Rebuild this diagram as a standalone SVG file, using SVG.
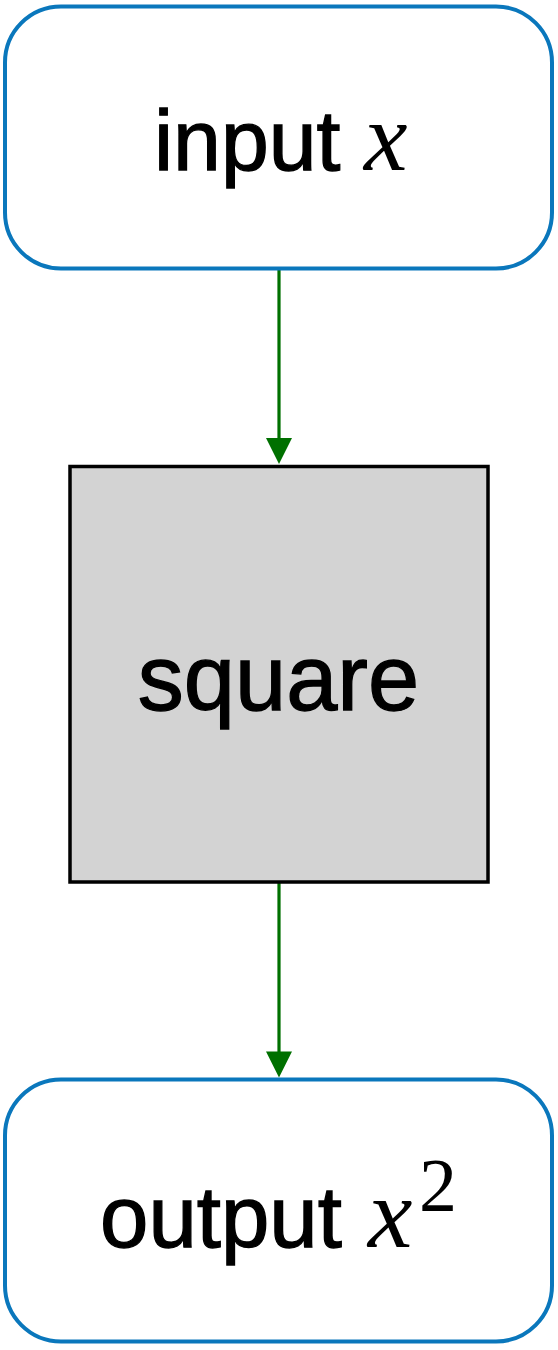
<svg xmlns="http://www.w3.org/2000/svg" width="558" height="1350" viewBox="0 0 558 1350">
  <style>
    .term { fill: #ffffff; stroke: #0a77bc; stroke-width: 4; }
    .proc { fill: #d3d3d3; stroke: #000000; stroke-width: 3.5; }
    .edge { stroke: #007000; stroke-width: 3.2; fill: none; }
    .head { fill: #007000; stroke: none; }
    .sans { font-family: "Liberation Sans", Arial, sans-serif; fill: #000; stroke: #000; stroke-width: 1.3; }
    .math { font-family: "Liberation Serif", "Times New Roman", serif; font-style: italic; fill: #000; }
    .num { font-family: "Liberation Serif", "Times New Roman", serif; fill: #000; }
  </style>
  <rect width="558" height="1350" fill="#ffffff"/>
  <g id="connectors">
    <line class="edge" x1="279" y1="268.5" x2="279" y2="440"/>
    <polygon class="head" points="266,438 292,438 279,464"/>
    <line class="edge" x1="279" y1="882" x2="279" y2="1053"/>
    <polygon class="head" points="266,1051.5 292,1051.5 279,1077.5"/>
  </g>
  <g id="input">
    <rect class="term" x="5" y="6.5" width="547" height="262" rx="56" ry="56"/>
    <text class="sans" x="154" y="170" font-size="86">input</text>
    <text class="math" x="364" y="170" font-size="98">x</text>
  </g>
  <g id="square">
    <rect class="proc" x="70" y="466.5" width="418" height="415.5"/>
    <text class="sans" x="278.5" y="710" font-size="92" text-anchor="middle">square</text>
  </g>
  <g id="output">
    <rect class="term" x="5" y="1079.5" width="547" height="262" rx="56" ry="56"/>
    <text class="sans" x="100" y="1247" font-size="87">output</text>
    <text class="math" x="368" y="1247" font-size="100">x</text>
    <text class="num" x="419" y="1211" font-size="76">2</text>
  </g>
</svg>
